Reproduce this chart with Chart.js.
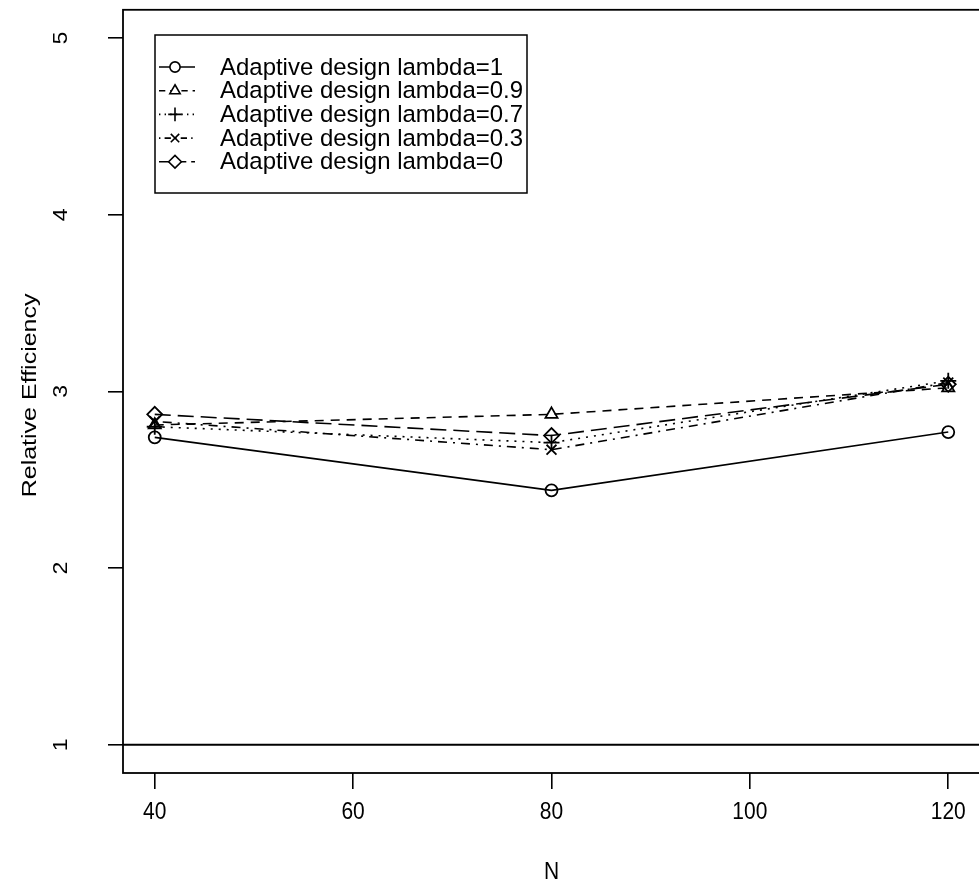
<!DOCTYPE html>
<html><head><meta charset="utf-8">
<script src="https://cdn.jsdelivr.net/npm/chart.js@4/dist/chart.umd.min.js"></script>
<style>html,body{margin:0;padding:0;overflow:hidden;background:#fff;width:979px;height:889px}canvas{display:block}</style>
</head><body>
<canvas id="c" width="990" height="889"></canvas>
<script>
const nValues = [40, 80, 120];
const xTicks = [40, 60, 80, 100, 120];
const yTicks = [1, 2, 3, 4, 5];
const effLambda1 = [2.74, 2.44, 2.77];
const effLambda09 = [2.81, 2.87, 3.02];
const effLambda07 = [2.80, 2.71, 3.06];
const effLambda03 = [2.83, 2.67, 3.05];
const effLambda0 = [2.87, 2.75, 3.04];
const seriesLabels = ['Adaptive design lambda=1','Adaptive design lambda=0.9','Adaptive design lambda=0.7','Adaptive design lambda=0.3','Adaptive design lambda=0'];
const xTitle = 'N';
const yTitle = 'Relative Efficiency';
const refLine = 1;

const FONT = '"Liberation Sans", Arial, sans-serif';
const styles = [
  {ps:'circle', dash:[], r:6},
  {ps:'triangle', dash:[9,7], r:7},
  {ps:'cross', dash:[2,6], r:8},
  {ps:'crossRot', dash:[2,6,9,6], r:7},
  {ps:'rectRot', dash:[16,7], r:7.5}
];
const allSeries = [effLambda1, effLambda09, effLambda07, effLambda03, effLambda0];
const datasets = allSeries.map((s,i)=>({
  label: seriesLabels[i],
  data: nValues.map((n,j)=>({x:n, y:s[j]})),
  borderColor:'#000', borderWidth:1.6, borderDash:styles[i].dash,
  pointStyle:styles[i].ps, pointRadius:styles[i].r, pointBorderWidth:1.8,
  pointBackgroundColor:'rgba(0,0,0,0)', pointBorderColor:'#000', tension:0, fill:false
}));

function txt(ctx, s, x, y, size, rotated, stretch){
  ctx.save();
  ctx.translate(x, y);
  ctx.font = size+'px '+FONT;
  ctx.textAlign='center'; ctx.textBaseline='middle'; ctx.fillStyle='#000';
  if (rotated){ ctx.rotate(-Math.PI/2); ctx.scale(stretch,1); }
  else { ctx.scale(1,stretch); }
  ctx.fillText(s,0,0);
  ctx.restore();
}

const custom = {
  id:'custom',
  afterDatasetsDraw(chart){
    const ctx = chart.ctx, a = chart.chartArea, ys = chart.scales.y, xs = chart.scales.x;
    ctx.save();
    const yr = ys.getPixelForValue(refLine);
    ctx.strokeStyle='#000'; ctx.lineWidth=1.8; ctx.setLineDash([]);
    ctx.beginPath(); ctx.moveTo(a.left, yr); ctx.lineTo(a.right, yr); ctx.stroke();
    ctx.strokeRect(a.left, a.top, a.right-a.left, a.bottom-a.top);
    yTicks.forEach(v=> txt(ctx, String(v), 61, ys.getPixelForValue(v), 21, true, 1.1));
    xTicks.forEach(v=> txt(ctx, String(v), xs.getPixelForValue(v), 813, 21, false, 1.1));
    txt(ctx, yTitle, 30, (a.top+a.bottom)/2 + 4, 20, true, 1.25);
    txt(ctx, xTitle, xs.getPixelForValue(80), 873, 21, false, 1.1);
    // legend
    const lx=155, ly=35, lw=372, lh=158;
    ctx.fillStyle='#fff'; ctx.fillRect(lx,ly,lw,lh);
    ctx.strokeStyle='#000'; ctx.lineWidth=1.5; ctx.strokeRect(lx,ly,lw,lh);
    ctx.font='21px '+FONT; ctx.textAlign='left';
    const maxW = Math.max(...seriesLabels.map(t=>ctx.measureText(t).width));
    const sx = 303/maxW;
    seriesLabels.forEach((t,i)=>{
      const y = ly + 32 + i*23.7;
      ctx.strokeStyle='#000';
      ctx.setLineDash(styles[i].dash.length?styles[i].dash.map(d=>d*0.7):[]);
      ctx.lineWidth=1.6;
      ctx.beginPath(); ctx.moveTo(lx+4,y); ctx.lineTo(lx+40,y); ctx.stroke();
      ctx.setLineDash([]);
      ctx.fillStyle='#fff';
      Chart.helpers.drawPoint(ctx,{pointStyle:styles[i].ps, radius:styles[i].r*0.85, borderWidth:1.8, rotation:0}, lx+20, y);
      ctx.save(); ctx.translate(lx+65, y+1); ctx.scale(sx, sx); ctx.fillStyle='#000'; ctx.textBaseline='middle'; ctx.fillText(t,0,0); ctx.restore();
    });
    ctx.restore();
  }
};

new Chart(document.getElementById('c'), {
  type:'line',
  data:{datasets},
  options:{
    responsive:false, animation:false,
    layout:{padding:{top:6, right:10, left:0, bottom:0}},
    plugins:{legend:{display:false}, tooltip:{enabled:false}},
    scales:{
      x:{type:'linear', min:36.8, max:123.2,
        afterBuildTicks(s){ s.ticks = xTicks.map(v=>({value:v})); },
        afterFit(s){ s.height = 116; },
        grid:{drawOnChartArea:false, drawTicks:true, tickLength:16, color:'#000', lineWidth:1.6},
        border:{display:false},
        ticks:{display:false}
      },
      y:{type:'linear', min:0.84, max:5.16,
        afterBuildTicks(s){ s.ticks = yTicks.map(v=>({value:v})); },
        afterFit(s){ s.width = 123; },
        grid:{drawOnChartArea:false, drawTicks:true, tickLength:15, color:'#000', lineWidth:1.6},
        border:{display:false},
        ticks:{display:false}
      }
    }
  },
  plugins:[custom]
});
</script>
</body></html>
